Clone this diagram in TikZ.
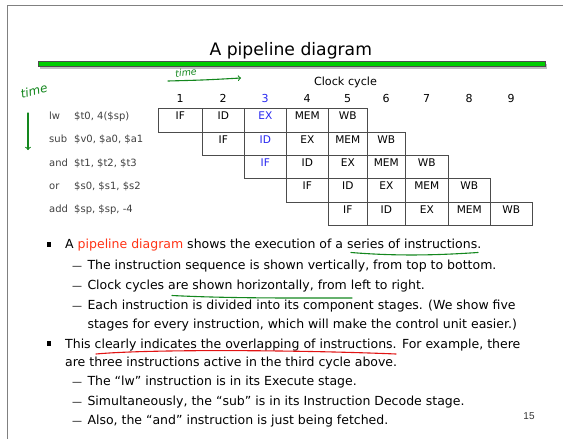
\documentclass[tikz,border=0pt]{standalone}
\usepackage{fontspec}
\setmainfont{DejaVu Sans}
\newfontfamily\numfont{Liberation Sans}
\usetikzlibrary{positioning}
\definecolor{pen}{RGB}{20,135,30}
\definecolor{bargreen}{RGB}{0,205,0}
\definecolor{hiblue}{RGB}{40,40,240}
\definecolor{hired}{RGB}{255,50,20}
\definecolor{penred}{RGB}{225,20,20}
\newcommand\bodysize{\fontsize{12.5pt}{15pt}\selectfont}
\tikzset{
  stagecell/.style={draw=black!70, line width=0.6pt, anchor=north west, inner xsep=0pt,
    inner ysep=1.8pt, text height=9.5pt, text depth=10.23pt, font=\fontsize{10.6pt}{12pt}\selectfont},
  instr/.style={anchor=base west, inner sep=0pt, text=black!75, font=\fontsize{10pt}{12pt}\selectfont},
  line/.style={anchor=base west, inner sep=0pt, font=\bodysize},
  dashmark/.style={anchor=base west, inner sep=0pt, font=\fontsize{10pt}{12pt}\selectfont},
  bullet/.style={fill=black, minimum size=4.5pt, inner sep=0pt},
  hand/.style={pen, inner sep=0pt, font=\itshape\fontsize{12pt}{14pt}\selectfont},
  scribble/.style={line width=1.1pt, line cap=round}
}
\begin{document}
\begin{tikzpicture}[x=1pt, y=-1pt, >=to]
\useasboundingbox (0,0) rectangle (563,439);
% page frame
\draw[black!50, line width=0.8pt] (7,439) -- (7,5) -- (563,5);
% title and bar
\node[anchor=base, inner sep=0pt, font=\fontsize{17.2pt}{20pt}\selectfont] (title) at (290.8,55) {A pipeline diagram};
\fill[black!25] (40,64) rectangle (547,69);
\draw[black!70, fill=bargreen, line width=0.5pt] (38,61) rectangle (545,66);
% handwritten time marks
\node[hand, rotate=14] (timeleft) at (34,91) {time};
\node[hand, rotate=6, font=\itshape\fontsize{9.5pt}{11pt}\selectfont] (timetop) at (186,72.5) {time};
\coordinate (ta) at (168,81);
\coordinate (tb) at (241,78);
\draw[pen, scribble, ->] (ta) .. controls (205,80) .. (tb);
\coordinate (da) at (28,113);
\coordinate (db) at (28,150);
\draw[pen, scribble, ->] (da) -- (db);
% clock cycle header
\node[anchor=base, inner sep=0pt, font=\fontsize{11.2pt}{13pt}\selectfont] (clock) at (345.5,85.5) {Clock cycle};
\foreach \c in {1,...,9} {
  \pgfmathsetmacro\xl{{158,202,244,286,328,367,405,448,490,532}[\c-1]}
  \pgfmathsetmacro\xr{{158,202,244,286,328,367,405,448,490,532}[\c]}
  \ifnum\c=3 \def\numcol{hiblue}\else\def\numcol{black}\fi
  \node[anchor=base, inner sep=0pt, text=\numcol, font=\fontsize{11pt}{13pt}\selectfont] (cyc-\c) at ({(\xl+\xr)/2},102.5) {\c};
}
% instructions
\foreach \r/\op/\args in {1/lw/{\$t0, 4(\$sp)}, 2/sub/{\$v0, \$a0, \$a1}, 3/and/{\$t1, \$t2, \$t3},
    4/or/{\$s0, \$s1, \$s2}, 5/add/{\$sp, \$sp, -4}} {
  \pgfmathsetmacro\ytop{108.3+23.33*(\r-1)}
  \node[instr] (op-\r) at (49,\ytop+11.3) {\op};
  \node[instr] (arg-\r) at (74,\ytop+11.3) {\args};
  \foreach \s/\st in {1/IF,2/ID,3/EX,4/MEM,5/WB} {
    \pgfmathtruncatemacro\c{\r+\s-1}
    \pgfmathsetmacro\xl{{158,202,244,286,328,367,405,448,490,532}[\c-1]}
    \pgfmathsetmacro\xr{{158,202,244,286,328,367,405,448,490,532}[\c]}
    \ifnum\c=3 \def\stcol{hiblue}\else\def\stcol{black}\fi
    \node[stagecell, minimum width={(\xr-\xl)*1pt}, text=\stcol] (cell-\r-\s) at (\xl,\ytop) {\st};
  }
}
% bullet text
\node[bullet] (b1) at (49,244.5) {};
\node[line] (l1) at (65,248.7) {A \textcolor{hired}{pipeline diagram} shows the execution of a series of instructions.};
\node[dashmark] (d2) at (72,269.3) {—};
\node[line] (l2) at (87.3,269.3) {The instruction sequence is shown vertically, from top to bottom.};
\node[dashmark] (d3) at (72,289.3) {—};
\node[line] (l3) at (87.3,289.3) {Clock cycles are shown horizontally, from left to right.};
\node[dashmark] (d4) at (72,309.7) {—};
\node[line] (l4) at (87.3,309.7) {Each instruction is divided into its component stages. (We show five};
\node[line] (l5) at (87.3,328) {stages for every instruction, which will make the control unit easier.)};
\node[bullet] (b2) at (49,343.5) {};
\node[line] (l6) at (65,348) {This clearly indicates the overlapping of instructions. For example, there};
\node[line] (l7) at (65,366) {are three instructions active in the third cycle above.};
\node[dashmark] (d8) at (72,385.3) {—};
\node[line] (l8) at (87.3,385.3) {The “lw” instruction is in its Execute stage.};
\node[dashmark] (d9) at (72,405.3) {—};
\node[line] (l9) at (87.3,405.3) {Simultaneously, the “sub” is in its Instruction Decode stage.};
\node[dashmark] (d10) at (72,424.3) {—};
\node[line] (l10) at (87.3,424.3) {Also, the “and” instruction is just being fetched.};
\node[anchor=base, inner sep=0pt, text=black!80, font=\numfont\fontsize{10pt}{12pt}\selectfont] (page) at (529,419) {15};
% underlines
\draw[pen, scribble] (351,252.5) .. controls (400,256.5) and (440,255) .. (478,252.5);
\draw[pen, scribble] (172,295.5) .. controls (230,298.5) and (300,298) .. (352,298);
\draw[penred, scribble] (96,354) .. controls (150,349) and (300,350) .. (396,354);
\end{tikzpicture}
\end{document}
